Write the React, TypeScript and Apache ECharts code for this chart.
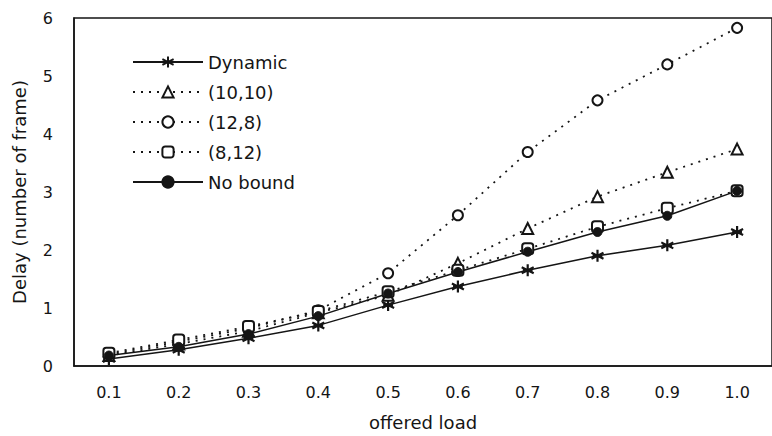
import React, { useEffect, useRef } from "react";
import * as echarts from "echarts";

const loads = ["0.1", "0.2", "0.3", "0.4", "0.5", "0.6", "0.7", "0.8", "0.9", "1.0"];
const dynamic = [0.12, 0.28, 0.48, 0.7, 1.05, 1.37, 1.65, 1.9, 2.08, 2.31];
const b1010 = [0.18, 0.38, 0.6, 0.92, 1.22, 1.77, 2.37, 2.92, 3.34, 3.74];
const b128 = [0.2, 0.42, 0.65, 0.96, 1.6, 2.6, 3.69, 4.58, 5.2, 5.83];
const b812 = [0.22, 0.45, 0.68, 0.94, 1.28, 1.65, 2.02, 2.4, 2.72, 3.02];
const noBound = [0.18, 0.33, 0.55, 0.86, 1.25, 1.62, 1.97, 2.31, 2.59, 3.02];

const FONT = "DejaVu Sans";
const INK = "#151515";
const ASTERISK =
  "path://M5,0 L5,10 M0.7,2.5 L9.3,7.5 M0.7,7.5 L9.3,2.5 M1.5,5 L8.5,5";

export default function App() {
  const ref = useRef<HTMLDivElement>(null);
  useEffect(() => {
    if (!ref.current) return;
    const chart = echarts.init(ref.current, undefined, { renderer: "svg" });
    const dotted = { color: INK, width: 1.8, type: [2, 6] as any };
    const solid = { color: INK, width: 1.5, type: "solid" as any };
    chart.setOption({
      animation: false,
      backgroundColor: "#fff",
      textStyle: { fontFamily: FONT, color: INK },
      grid: {
        left: 74,
        right: -9,
        top: 18,
        bottom: 68,
        show: true,
        borderColor: INK,
        borderWidth: 1.5,
        backgroundColor: "transparent",
      },
      legend: {
        orient: "vertical",
        left: 127,
        top: 48,
        itemWidth: 70,
        itemHeight: 14,
        itemGap: 12,
        itemTextGap: 6,
        textStyle: { fontFamily: FONT, fontSize: 18, color: INK, lineHeight: 18 },
        data: ["Dynamic", "(10,10)", "(12,8)", "(8,12)", "No bound"],
      },
      xAxis: {
        type: "category",
        data: loads,
        boundaryGap: true,
        name: "offered load",
        nameLocation: "middle",
        nameGap: 47,
        nameTextStyle: { fontFamily: FONT, fontSize: 18, color: INK },
        axisLine: { lineStyle: { color: INK, width: 1.5 } },
        axisTick: { show: false },
        axisLabel: { fontFamily: FONT, fontSize: 16, color: INK, margin: 18 },
        splitLine: { show: false },
      },
      yAxis: {
        type: "value",
        min: 0,
        max: 6,
        interval: 1,
        name: "Delay (number of frame)",
        nameLocation: "middle",
        nameRotate: 90,
        nameGap: 46,
        nameTextStyle: { fontFamily: FONT, fontSize: 18, color: INK },
        axisLine: { show: true, lineStyle: { color: INK, width: 1.5 } },
        axisTick: { show: false },
        axisLabel: { fontFamily: FONT, fontSize: 16, color: INK, margin: 21 },
        splitLine: { show: false },
      },
      series: [
        {
          name: "Dynamic",
          type: "line",
          data: dynamic,
          symbol: ASTERISK,
          symbolSize: 12,
          lineStyle: solid,
          itemStyle: { color: INK, borderColor: INK, borderWidth: 2.2 },
        },
        {
          name: "(10,10)",
          type: "line",
          data: b1010,
          symbol: "triangle",
          symbolSize: 11,
          lineStyle: dotted,
          itemStyle: { color: "#fff", borderColor: INK, borderWidth: 2 },
        },
        {
          name: "(12,8)",
          type: "line",
          data: b128,
          symbol: "circle",
          symbolSize: 10,
          lineStyle: dotted,
          itemStyle: { color: "#fff", borderColor: INK, borderWidth: 2 },
        },
        {
          name: "(8,12)",
          type: "line",
          data: b812,
          symbol: "roundRect",
          symbolSize: 11,
          lineStyle: dotted,
          itemStyle: { color: "#fff", borderColor: INK, borderWidth: 2 },
        },
        {
          name: "No bound",
          type: "line",
          data: noBound,
          symbol: "circle",
          symbolSize: 9,
          lineStyle: solid,
          itemStyle: { color: INK, borderColor: INK, borderWidth: 1 },
        },
      ],
    });
    return () => chart.dispose();
  }, []);
  return <div ref={ref} style={{ width: 772, height: 436, position: "absolute", left: 0, top: 0 }} />;
}
